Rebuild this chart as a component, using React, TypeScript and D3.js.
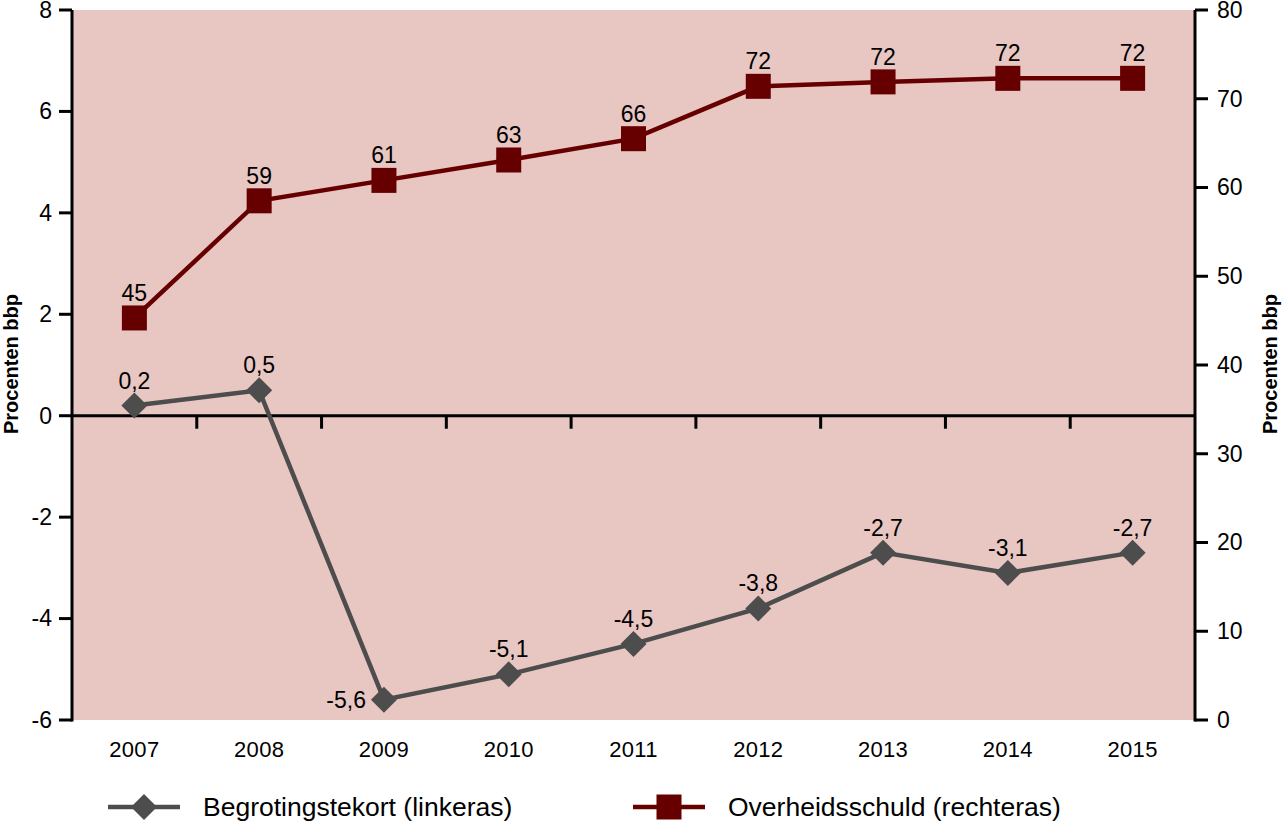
import React from "react";
import * as d3 from "d3";

const years = ["2007", "2008", "2009", "2010", "2011", "2012", "2013", "2014", "2015"];
const deficit = [0.2, 0.5, -5.6, -5.1, -4.5, -3.8, -2.7, -3.1, -2.7];
const deficitLabels = ["0,2", "0,5", "-5,6", "-5,1", "-4,5", "-3,8", "-2,7", "-3,1", "-2,7"];
const debt = [45.3, 58.5, 60.8, 63.1, 65.5, 71.4, 71.9, 72.3, 72.3];
const debtLabels = ["45", "59", "61", "63", "66", "72", "72", "72", "72"];
const leftTicks = [-6, -4, -2, 0, 2, 4, 6, 8];
const rightTicks = [0, 10, 20, 30, 40, 50, 60, 70, 80];
const legendItems = ["Begrotingstekort (linkeras)", "Overheidsschuld (rechteras)"];
const axisTitle = "Procenten bbp";

const W = 1286, H = 823;
const L = 72, R = 1195, T = 10, B = 720;
const FONT = "'Liberation Sans', Arial, sans-serif";
const GREY = "#4D4D4D";
const RED = "#660000";

export default function App() {
  const x = d3.scaleBand<string>().domain(years).range([L, R]).padding(0);
  const cx = (y: string) => (x(y) as number) + x.bandwidth() / 2;
  const yL = d3.scaleLinear().domain([-6, 8]).range([B, T]);
  const yR = d3.scaleLinear().domain([0, 80]).range([B, T]);

  const defLine = d3.line<number>().x((_, i) => cx(years[i])).y((d) => yL(d));
  const debtLine = d3.line<number>().x((_, i) => cx(years[i])).y((d) => yR(d));
  const diamond = (px: number, py: number, r = 13) =>
    `M${px},${py - r}L${px + r},${py}L${px},${py + r}L${px - r},${py}Z`;

  return (
    <svg width={W} height={H} style={{ position: "absolute", left: 0, top: 0 }} fontFamily={FONT}>
      <rect x={0} y={0} width={W} height={H} fill="#fff" />
      <rect x={L} y={T} width={R - L} height={B - T} fill="#E8C6C2" />

      {/* zero line with ticks */}
      <line x1={L} x2={R} y1={yL(0)} y2={yL(0)} stroke="#000" strokeWidth={3} />
      {years.slice(1).map((yr) => (
        <line key={yr} x1={x(yr)} x2={x(yr)} y1={yL(0)} y2={yL(0) + 13} stroke="#000" strokeWidth={3} />
      ))}

      {/* left axis */}
      <line x1={L} x2={L} y1={T} y2={B + 1.5} stroke="#000" strokeWidth={3} />
      {leftTicks.map((t) => (
        <g key={t}>
          <line x1={L - 13} x2={L} y1={yL(t)} y2={yL(t)} stroke="#000" strokeWidth={3} />
          <text x={L - 20} y={yL(t)} dy="0.34em" textAnchor="end" fontSize={23}>{t}</text>
        </g>
      ))}
      {/* right axis */}
      <line x1={R} x2={R} y1={T} y2={B + 1.5} stroke="#000" strokeWidth={3} />
      {rightTicks.map((t) => (
        <g key={t}>
          <line x1={R} x2={R + 13} y1={yR(t)} y2={yR(t)} stroke="#000" strokeWidth={3} />
          <text x={R + 22} y={yR(t)} dy="0.34em" textAnchor="start" fontSize={23}>{t}</text>
        </g>
      ))}

      {/* x labels */}
      {years.map((yr) => (
        <text key={yr} x={cx(yr)} y={757} textAnchor="middle" fontSize={22} letterSpacing={0.3}>{yr}</text>
      ))}

      {/* axis titles */}
      <text transform={`translate(18,364) rotate(-90)`} textAnchor="middle" fontSize={20} fontWeight="bold">{axisTitle}</text>
      <text transform={`translate(1277,364) rotate(-90)`} textAnchor="middle" fontSize={20} fontWeight="bold">{axisTitle}</text>

      {/* debt series */}
      <path d={debtLine(debt) || ""} fill="none" stroke={RED} strokeWidth={4.5} />
      {debt.map((v, i) => (
        <g key={i}>
          <rect x={cx(years[i]) - 12.5} y={yR(v) - 12.5} width={25} height={25} fill={RED} />
          <text x={cx(years[i])} y={yR(v) - 17} textAnchor="middle" fontSize={23}>{debtLabels[i]}</text>
        </g>
      ))}

      {/* deficit series */}
      <path d={defLine(deficit) || ""} fill="none" stroke={GREY} strokeWidth={4.5} />
      {deficit.map((v, i) => {
        const px = cx(years[i]);
        const py = yL(v);
        const left = i === 2;
        return (
          <g key={i}>
            <path d={diamond(px, py)} fill={GREY} />
            {left ? (
              <text x={px - 18} y={py + 8} textAnchor="end" fontSize={23}>{deficitLabels[i]}</text>
            ) : (
              <text x={px} y={py - 17} textAnchor="middle" fontSize={23}>{deficitLabels[i]}</text>
            )}
          </g>
        );
      })}

      {/* legend */}
      <line x1={108} x2={180} y1={807} y2={807} stroke={GREY} strokeWidth={4.5} />
      <path d={diamond(144, 807)} fill={GREY} />
      <text x={203} y={816} fontSize={26.5}>{legendItems[0]}</text>
      <line x1={633} x2={705} y1={807} y2={807} stroke={RED} strokeWidth={4.5} />
      <rect x={669 - 12.5} y={807 - 12.5} width={25} height={25} fill={RED} />
      <text x={728} y={816} fontSize={26.5}>{legendItems[1]}</text>
    </svg>
  );
}
